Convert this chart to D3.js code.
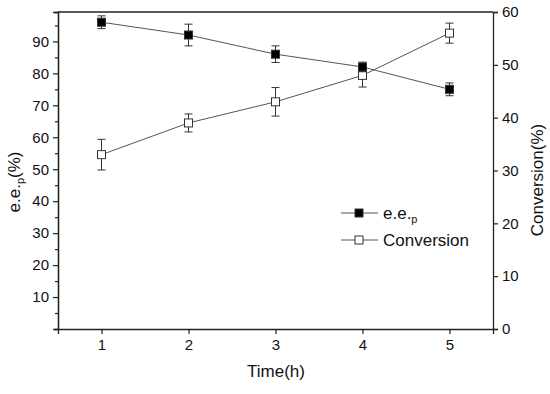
<!DOCTYPE html>
<html>
<head>
<script src="https://cdn.jsdelivr.net/npm/d3@7"></script>
<style>
  body { margin: 0; background: #fff; }
  svg text { font-family: "Liberation Sans", Arial, sans-serif; fill: #111; }
</style>
</head>
<body>
<div id="chart"></div>
<script>
var times = [1, 2, 3, 4, 5];
var eeValues = [96, 92, 86, 82, 75];
var eeErrors = [2, 3.4, 2.6, 1.5, 2];
var convValues = [33, 39, 43, 48, 56];
var convErrors = [2.9, 1.7, 2.7, 2.2, 1.9];
var xTicks = [1, 2, 3, 4, 5];
var leftTicks = [10, 20, 30, 40, 50, 60, 70, 80, 90];
var leftMinor = [5, 15, 25, 35, 45, 55, 65, 75, 85, 95];
var rightTicks = [0, 10, 20, 30, 40, 50, 60];

var W = 550, H = 394;
var m = {left: 58, right: 57, top: 12, bottom: 65};

var svg = d3.select('#chart').append('svg')
    .attr('width', W).attr('height', H);

var x = d3.scaleLinear().domain([0.5, 5.5]).range([m.left, W - m.right]);
var yL = d3.scaleLinear().domain([0, 99.2]).range([H - m.bottom, m.top]);
var yR = d3.scaleLinear().domain([0, 60]).range([H - m.bottom, m.top]);

// top frame line
svg.append('line')
    .attr('x1', m.left).attr('x2', W - m.right)
    .attr('y1', m.top).attr('y2', m.top)
    .attr('stroke', '#222').attr('stroke-width', 1.3);

svg.append('g')
    .attr('transform', 'translate(0,' + (H - m.bottom) + ')')
    .call(d3.axisBottom(x).tickValues(xTicks).tickSize(5).tickPadding(5).tickFormat(d3.format('d')));

svg.append('g')
    .attr('transform', 'translate(' + m.left + ',0)')
    .call(d3.axisLeft(yL).tickValues(leftTicks).tickSize(5).tickPadding(4).tickFormat(d3.format('d')));
svg.append('g')
    .attr('transform', 'translate(' + m.left + ',0)')
    .call(d3.axisLeft(yL).tickValues(leftMinor).tickSize(3).tickFormat(''));

svg.append('g')
    .attr('transform', 'translate(' + (W - m.right) + ',0)')
    .call(d3.axisRight(yR).tickValues(rightTicks).tickSize(5).tickPadding(4).tickFormat(d3.format('d')));

svg.selectAll('.domain').attr('stroke', '#222').attr('stroke-width', 1.3);
svg.selectAll('.tick line').attr('stroke', '#222').attr('stroke-width', 1.2);
svg.selectAll('.tick text').style('font-size', '15px').attr('fill', '#111');

// axis titles
svg.append('text')
    .attr('x', (m.left + W - m.right) / 2 + 0.5).attr('y', 377)
    .attr('text-anchor', 'middle').style('font-size', '17px')
    .text('Time(h)');

var lt = svg.append('text')
    .attr('transform', 'translate(20,182) rotate(-90)')
    .attr('text-anchor', 'middle').style('font-size', '17px');
lt.append('tspan').text('e.e.');
lt.append('tspan').attr('dy', 4).style('font-size', '11px').text('p');
lt.append('tspan').attr('dy', -4).text('(%)');

svg.append('text')
    .attr('transform', 'translate(543,180) rotate(-90)')
    .attr('text-anchor', 'middle').style('font-size', '17px')
    .text('Conversion(%)');

function drawSeries(values, errors, scale, fill) {
    var g = svg.append('g');
    var line = d3.line().x(function(d, i) { return x(times[i]); })
        .y(function(d) { return scale(d); });
    g.append('path').datum(values)
        .attr('d', line).attr('fill', 'none')
        .attr('stroke', '#555').attr('stroke-width', 1);
    var pts = g.selectAll('.pt').data(values).enter().append('g');
    pts.append('line')
        .attr('x1', function(d, i) { return x(times[i]); })
        .attr('x2', function(d, i) { return x(times[i]); })
        .attr('y1', function(d, i) { return scale(d + errors[i]); })
        .attr('y2', function(d, i) { return scale(d - errors[i]); })
        .attr('stroke', '#333').attr('stroke-width', 1);
    [1, -1].forEach(function(s) {
        pts.append('line')
            .attr('x1', function(d, i) { return x(times[i]) - 4; })
            .attr('x2', function(d, i) { return x(times[i]) + 4; })
            .attr('y1', function(d, i) { return scale(d + s * errors[i]); })
            .attr('y2', function(d, i) { return scale(d + s * errors[i]); })
            .attr('stroke', '#333').attr('stroke-width', 1);
    });
    pts.append('rect')
        .attr('x', function(d, i) { return x(times[i]) - 4; })
        .attr('y', function(d) { return scale(d) - 4; })
        .attr('width', 8).attr('height', 8)
        .attr('fill', fill).attr('stroke', '#333').attr('stroke-width', 1);
}

drawSeries(convValues, convErrors, yR, '#fff');
drawSeries(eeValues, eeErrors, yL, '#000');

// legend
function legendRow(yy, fill) {
    svg.append('line').attr('x1', 341).attr('x2', 378).attr('y1', yy).attr('y2', yy)
        .attr('stroke', '#555').attr('stroke-width', 1);
    svg.append('rect').attr('x', 355).attr('y', yy - 4).attr('width', 8).attr('height', 8)
        .attr('fill', fill).attr('stroke', '#333').attr('stroke-width', 1);
}
legendRow(213, '#000');
legendRow(240, '#fff');
var l1 = svg.append('text').attr('x', 383).attr('y', 219).style('font-size', '17px');
l1.append('tspan').text('e.e.');
l1.append('tspan').attr('dy', 4).style('font-size', '11px').text('p');
svg.append('text').attr('x', 383).attr('y', 246).style('font-size', '17px').text('Conversion');
</script>
</body>
</html>
